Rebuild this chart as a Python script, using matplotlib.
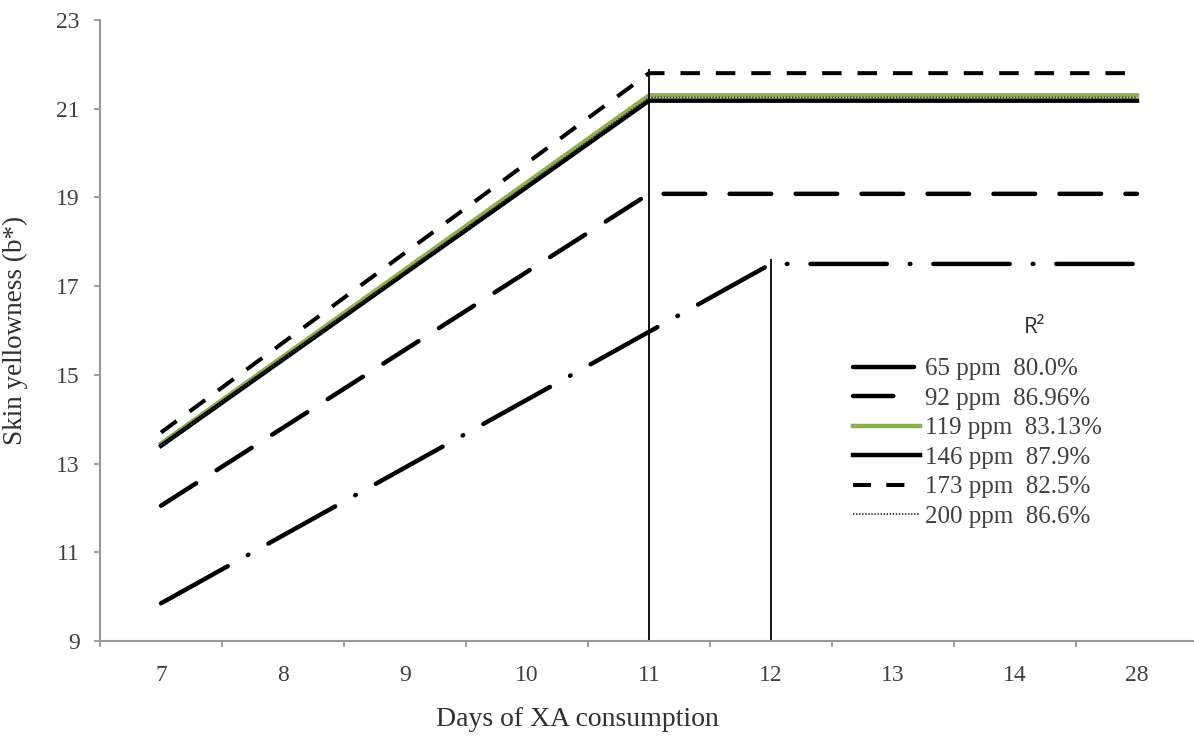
import numpy as np
import matplotlib.pyplot as plt

# categorical x axis (days)
days = ['7', '8', '9', '10', '11', '12', '13', '14', '28']

# breakpoints of each fitted plateau model: (day, b*)
days_65 = ['7', '12', '28']
vals_65 = [9.85, 17.5, 17.5]
days_92 = ['7', '11', '28']
vals_92 = [12.05, 19.08, 19.08]
days_119 = ['7', '11', '28']
vals_119 = [13.45, 21.3, 21.3]
days_146 = ['7', '11', '28']
vals_146 = [13.4, 21.18, 21.18]
days_173 = ['7', '11', '28']
vals_173 = [13.7, 21.8, 21.8]
days_200 = ['7', '11', '28']
vals_200 = [13.4, 21.25, 21.25]

labels = ['65 ppm  80.0%', '92 ppm  86.96%', '119 ppm  83.13%',
          '146 ppm  87.9%', '173 ppm  82.5%', '200 ppm  86.6%']

# breakpoints marked with vertical lines
break_days = ['11', '12']
break_tops = [21.9, 17.6]

plt.rcParams['lines.scale_dashes'] = False
serif = 'Liberation Serif'


def pos(ds):
    return [days.index(d) + 0.5 for d in ds]


fig = plt.figure(figsize=(11.94, 7.38), dpi=100)
ax = fig.add_axes([0.08375, 0.1314, 0.9196, 0.8416])

l65, = ax.plot(pos(days_65), vals_65, color='black', lw=3.2,
               dashes=(55, 16.5, 0.5, 16.5), dash_capstyle='round',
               solid_capstyle='round')
l92, = ax.plot(pos(days_92), vals_92, color='black', lw=3.2,
               dashes=(30, 17.5), dash_capstyle='round',
               solid_capstyle='round')
l119, = ax.plot(pos(days_119), vals_119, color='#8db04e', lw=3.2)
l146, = ax.plot(pos(days_146), vals_146, color='black', lw=3.2)
l173, = ax.plot(pos(days_173), vals_173, color='black', lw=2.9,
                dashes=(14, 11.5))
l200, = ax.plot(pos(days_200), vals_200, color='#333333', lw=1.3,
                dashes=(1, 1.2))

ax.vlines(pos(break_days), 9, break_tops, color='black', lw=1.3)

ax.set_xlim(0, len(days))
ax.set_ylim(9, 23)
ax.set_yticks(np.arange(9, 24, 2))
ax.set_xticks(np.arange(len(days)) + 0.5)
ax.set_xticklabels(days)
ax.set_xticks(np.arange(len(days) + 1), minor=True)
ax.tick_params(axis='x', which='major', length=0, pad=17)
ax.tick_params(axis='x', which='minor', length=4.5, width=1.3,
               color='#999999', direction='out')
ax.tick_params(axis='y', length=4.5, width=1.3, color='#999999', pad=10)

for lab in ax.get_xticklabels() + ax.get_yticklabels():
    lab.set_fontfamily(serif)
    lab.set_fontsize(17)
    lab.set_color('#404040')

for s in ['top', 'right']:
    ax.spines[s].set_visible(False)
for s in ['left', 'bottom']:
    ax.spines[s].set_color('#999999')
    ax.spines[s].set_linewidth(1.5)

ax.set_xlabel('Days of XA consumption', fontfamily=serif, fontsize=20,
              color='#303030')
ax.xaxis.set_label_coords(0.435, -0.106)
ax.set_ylabel('Skin yellowness (b*)', fontfamily=serif, fontsize=19.5,
              color='#303030')
ax.yaxis.set_label_coords(-0.066, 0.5)

leg = fig.legend([l65, l92, l119, l146, l173, l200], labels,
                 loc='upper left', bbox_to_anchor=(0.7144, 0.515),
                 frameon=False, handlelength=2.7, handletextpad=0.2,
                 labelspacing=0.28, borderpad=0, borderaxespad=0,
                 prop={'family': serif, 'size': 18})
for t in leg.get_texts():
    t.set_color('#404040')
# short swatches: show a single dash for the long-dash entries
leg.legend_handles[0].set_dashes((44, 60))
leg.legend_handles[1].set_dashes((29, 60))
leg.legend_handles[4].set_dashes((13, 11, 13, 60))
leg.legend_handles[5].set_dashes((1, 1.2, 1, 1.2, 1, 1.2, 1, 1.2, 1, 1.2,
                                  1, 1.2, 1, 1.2, 1, 1.2, 1, 1.2, 1, 1.2,
                                  1, 1.2, 1, 1.2, 1, 1.2, 1, 1.2, 1, 1.2,
                                  1, 1.2, 1, 1.2, 1, 1.2, 1, 30))

fig.text(0.8668, 0.5556, 'R²', fontfamily='Open Sans', fontsize=16,
         color='#303030', ha='center', va='center')

fig.savefig('out.png', dpi=100)
